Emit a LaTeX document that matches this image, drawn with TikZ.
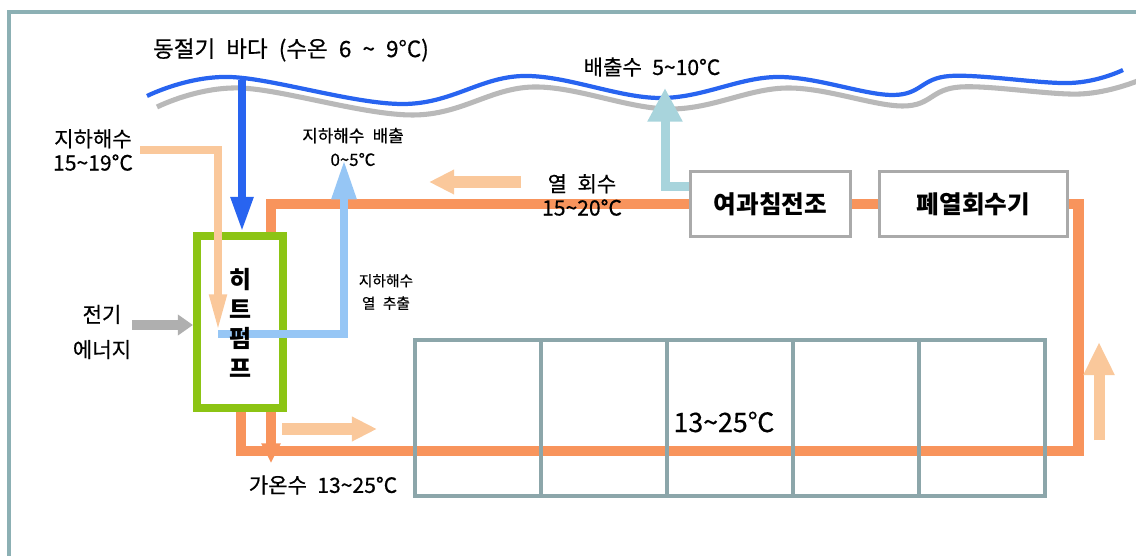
\documentclass[tikz,border=0pt]{standalone}
\usepackage{fontspec}
\setmainfont{Noto Sans CJK KR}[WordSpace=2.2, UprightFeatures={FakeBold=0.5}]
\usetikzlibrary{arrows.meta,positioning}

\definecolor{seablue}{RGB}{40,100,240}
\definecolor{wavegray}{RGB}{185,185,185}
\definecolor{peach}{RGB}{250,200,155}
\definecolor{orangeline}{RGB}{248,148,92}
\definecolor{skyblue}{RGB}{150,198,245}
\definecolor{paleteal}{RGB}{168,212,220}
\definecolor{hpgreen}{RGB}{140,196,20}
\definecolor{tankgray}{RGB}{140,166,170}
\definecolor{boxgray}{RGB}{170,170,170}
\definecolor{framecol}{RGB}{140,176,180}
\definecolor{elecgray}{RGB}{175,175,175}

\newcommand{\tildech}{\textasciitilde}

\tikzset{
  pipe/.style={draw=orangeline, line width=7.8pt},
  unitbox/.style={draw=boxgray, line width=2.1pt, fill=white, minimum height=1.625cm,
    inner sep=0pt, font=\bfseries\fontsize{17.5}{20}\selectfont},
  tank/.style={draw=tankgray, line width=2.3pt, minimum width=3.15cm, minimum height=3.9cm, inner sep=0pt},
  lbl/.style={inner sep=0pt, align=center, font=\fontsize{15}{17}\selectfont}
}

\begin{document}
\begin{tikzpicture}[x=0.025cm,y=-0.025cm,
  seaflow/.style={draw=seablue, line width=5.7pt, -{Triangle[width=15pt,length=25pt]}},
  gwflow/.style={draw=peach, line width=5pt, -{Triangle[width=11.5pt,length=26pt]}},
  coldflow/.style={draw=skyblue, line width=5.7pt, -{Triangle[width=16.5pt,length=28pt]}},
  disflow/.style={draw=paleteal, line width=6.4pt, -{Triangle[width=23.5pt,length=24pt]}},
  hintflow/.style={draw=peach, line width=8.5pt, -{Triangle[width=16.4pt,length=17.8pt]}},
  elecflow/.style={draw=elecgray, line width=7.1pt, -{Triangle[width=14.2pt,length=10.7pt]}}]
\useasboundingbox (0,0) rectangle (1136,556);
% frame
\draw[framecol, line width=2.2pt] (9,12) rectangle (1170,590);

% sea surface
\draw[wavegray, line width=3.6pt] plot[smooth, tension=0.6] coordinates
  {(157,107) (240,88) (413,115) (533,87) (670,109) (787,88) (903,106) (960,87) (1080,94) (1140,80)};
\draw[seablue, line width=3pt] plot[smooth, tension=0.6] coordinates
  {(147,96) (230,77) (403,104) (523,76) (660,98) (777,77) (893,95) (950,76) (1070,83) (1123,70)};

% heat pump and plant units
\node[draw=hpgreen, line width=5.7pt, minimum width=2.15cm, minimum height=4.3cm, inner sep=0pt] (hp) at (240,322) {};
\node[unitbox, minimum width=4cm] (filt) at (770.5,204) {여과침전조};
\node[unitbox, minimum width=4.7cm] (heatrec) at (973.5,204) {폐열회수기};

% hot water loop
\coordinate (loopTL) at (271,204);
\coordinate (loopBR) at (1078,451);
\coordinate (loopBL) at (241,451);
\coordinate (hotdown) at (271,463);
\draw[pipe] (hp.north -| loopTL) |- (filt.west);
\draw[pipe] (filt.east) -- (heatrec.west);
\draw[pipe] (heatrec.east) -| (loopBR) -| (hp.south -| loopBL);
\draw[pipe, -{Triangle[width=13pt,length=14pt]}] (hp.south -| hotdown) -- (hotdown);

% tanks
\foreach \i in {0,...,4}
  \node[tank] (tank\i) at ({478+126*\i},418) {};

% sea water and ground water
\coordinate (seain) at (242,80);
\draw[seaflow] (seain) -- (seain |- hp.north);
\coordinate (gwsrc) at (140,150);
\coordinate (gwend) at (218,331);
\draw[gwflow] (gwsrc) -| (gwend);
\coordinate (gwret) at (218,334);
\coordinate (gwtop) at (344,160);
\draw[coldflow] (gwret) -| (gwtop);
\coordinate (distop) at (665,88);
\draw[disflow] (filt.west) ++(0,-17) -| (distop);

% flow hints
\coordinate (recR) at (521,182);
\coordinate (recL) at (429,182);
\draw[hintflow] (recR) -- (recL);
\coordinate (hotA) at (282,429);
\coordinate (hotB) at (377,429);
\draw[hintflow] (hotA) -- (hotB);
\coordinate (upB) at (1099,440);
\coordinate (upT) at (1099,342);
\draw[hintflow, line width=7.8pt, -{Triangle[width=20.6pt,length=23.5pt]}] (upB) -- (upT);
\coordinate (elecsrc) at (132,325);
\draw[elecflow] (elecsrc) -- (elecsrc -| hp.west);

% labels
\node[lbl, font=\bfseries\fontsize{17}{21}\selectfont] (hplbl) at (240,323) {히\\트\\펌\\프};
\node[lbl, font=\fontsize{16}{18}\selectfont] (sealbl) at (291,50) {동절기 바다 (수온 6 \tildech\ 9°C)};
\node[lbl] (outlbl) at (652,67) {배출수 5\tildech10°C};
\node[lbl] (gwinlbl) at (93,150) {지하해수\\15\tildech19°C};
\node[lbl, font=\fontsize{12}{17}\selectfont] (gwoutlbl) at (353,147) {지하해수 배출\\0\tildech5℃};
\node[lbl, font=\fontsize{10.5}{16}\selectfont] (extlbl) at (386,292) {지하해수\\열 추출};
\node[lbl, font=\fontsize{15}{25}\selectfont] (eleclbl) at (102,332) {전기\\에너지};
\node[lbl] (reclbl) at (582,195) {열 회수\\15\tildech20°C};
\node[lbl] (hotlbl) at (323,485) {가온수 13\tildech25°C};
\node[lbl, font=\fontsize{19}{22}\selectfont] (tanklbl) at (724,422) {13\tildech25℃};
\end{tikzpicture}
\end{document}
